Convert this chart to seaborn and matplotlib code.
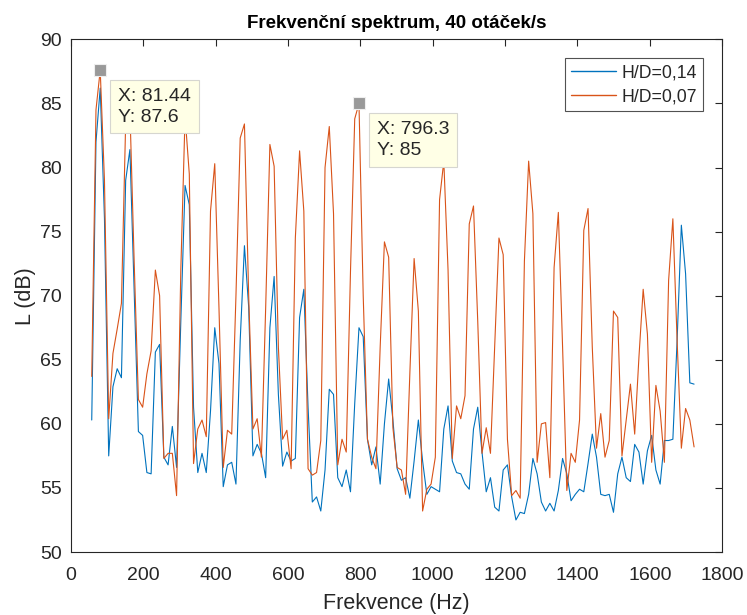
import numpy as np
import pandas as pd
import seaborn as sns
import matplotlib
matplotlib.use('Agg')
import matplotlib.pyplot as plt

# frequency bins (Hz): start, step, count
F0 = 58.0
DF = 11.719
N = 143

# sound level L (dB) for each bin
hd_014 = [60.3, 82, 86.2, 76, 57.5, 62.9, 64.3, 63.6, 79, 81.4,
          70.4, 59.4, 59.1, 56.2, 56.1, 65.6, 66.2, 57.4, 56.8, 59.8,
          56.6, 68, 78.6, 77.1, 61.3, 56.2, 57.7, 56.2, 61, 67.5,
          64.7, 55.1, 56.8, 57, 55.3, 66.5, 73.9, 69.1, 57.5, 58.4,
          57.7, 55.8, 67.5, 71.5, 62.3, 56.7, 57.8, 57.1, 57.3, 68.3,
          70.5, 61.3, 53.9, 54.3, 53.2, 56.4, 62.7, 62.3, 55.8, 55.1,
          56.4, 54.7, 61.6, 67.5, 66.8, 58.8, 56.8, 58.2, 55.3, 60,
          63.5, 60.3, 56.5, 55.6, 55.8, 54.2, 57.1, 60.3, 57.1, 54.5,
          55.1, 54.9, 54.7, 59.6, 61.4, 57.1, 56.2, 56.1, 55.3, 54.9,
          59.6, 61.3, 57.8, 54.7, 55.8, 53.5, 53.2, 56.4, 56.8, 54.3,
          52.5, 53.1, 53.0, 54.5, 57.3, 56.1, 53.9, 53.2, 53.8, 53.2,
          54.8, 57.3, 56.1, 54.0, 54.5, 54.9, 54.7, 56.9, 59.2, 57.4,
          54.5, 54.4, 54.5, 53.1, 56.1, 57.4, 55.8, 55.5, 58.4, 57.8,
          55.3, 57.9, 59.1, 56.4, 55.3, 58.7, 58.7, 58.8, 66.5, 75.5,
          71.7, 63.2, 63.1]

hd_007 = [63.7, 84.5, 87.6, 79, 60.4, 65.5, 67.4, 69.4, 83.5, 84.5,
          72.7, 61.9, 61.3, 63.9, 65.7, 72, 70, 57.3, 57.7, 57.7,
          54.4, 72, 84, 79.5, 56.9, 59.6, 60.3, 59, 76.6, 80.3,
          69, 56.6, 59.5, 59.2, 70, 82.3, 83.4, 70, 59.6, 60.4,
          57.4, 69, 81.8, 80.1, 66, 58.8, 59.5, 56.5, 74.5, 81.3,
          76.6, 56.5, 56, 56.2, 58.7, 80, 83.2, 76.4, 56.8, 58.8,
          57.8, 71.9, 83.8, 85, 70, 58.8, 57.4, 56.5, 66, 74.2,
          73, 59.7, 56.6, 56.4, 54.5, 64, 72.9, 68.8, 53.2, 54.9,
          55.3, 57.4, 77.5, 80.5, 72, 57.3, 61.4, 60.4, 62.2, 75.6,
          77, 68, 57.7, 59.7, 57.7, 66, 74.5, 73.2, 58.8, 54.4,
          54.8, 54.2, 72.7, 80.5, 76.4, 57, 60, 60.1, 55.8, 72.2,
          76.5, 66, 54.8, 57.7, 57, 60.3, 75.1, 76.8, 66, 58.1,
          60.8, 57.4, 58.7, 68.8, 68.3, 57.5, 60.3, 63.1, 59.2, 65.2,
          70.5, 67, 57, 63, 61, 57, 71.2, 76, 66.5, 58.1,
          61.2, 60.3, 58.2]

series_names = ['H/D=0,14', 'H/D=0,07']
tip_idx = [2, 63]  # data tips on the H/D=0,07 curve

freq = F0 + DF * np.arange(N)
freq[2] = 81.44
freq[63] = 796.3

df = pd.DataFrame({
    'f': np.concatenate([freq, freq]),
    'L': np.concatenate([hd_014, hd_007]),
    'serie': [series_names[0]] * N + [series_names[1]] * N,
})

sns.set_style('white')
plt.rcParams['font.family'] = ['Liberation Sans', 'DejaVu Sans']

fig = plt.figure(figsize=(7.47, 6.15), dpi=100)
ax = fig.add_axes([0.0947, 0.1024, 0.8722, 0.8336])

sns.lineplot(data=df, x='f', y='L', hue='serie', palette=['#0072BD', '#D95319'],
             linewidth=0.8, ax=ax, sort=False, estimator=None)

ax.set_xlim(0, 1800)
ax.set_ylim(50, 90)
ax.set_xticks(range(0, 1801, 200))
ax.set_yticks(range(50, 91, 5))
ax.tick_params(direction='in', length=5, width=0.8, labelsize=14, colors='#262626',
               top=True, right=True)
ax.tick_params(axis='x', pad=11)
ax.tick_params(axis='y', pad=6.5)
for s in ax.spines.values():
    s.set_color('#262626')
    s.set_linewidth(0.8)

ax.set_xlabel('Frekvence (Hz)', fontsize=15.5, color='#262626', labelpad=6)
ax.set_ylabel('L (dB)', fontsize=15.5, color='#262626', labelpad=3)
ax.set_title('Frekvenční spektrum, 40 otáček/s', fontsize=13.5, fontweight='bold',
             color='black', pad=8)

leg = ax.legend(loc='upper right', fontsize=12.7, frameon=True, fancybox=False,
                edgecolor='#262626', borderpad=0.35, handlelength=2.5,
                handletextpad=0.35, labelspacing=0.38,
                bbox_to_anchor=(1, 1), borderaxespad=1.07)
leg.get_frame().set_linewidth(0.8)
for h in leg.get_lines():
    h.set_linewidth(1.0)

for i in tip_idx:
    x, y = freq[i], hd_007[i]
    ax.plot([x], [y], marker='s', markersize=9, color='#999999', zorder=5,
            markeredgecolor='#eeeeee', markeredgewidth=0.8)
    ax.annotate(f'X: {x:g}\nY: {y:g}', xy=(x, y), xytext=(18, -17.5),
                textcoords='offset pixels', ha='left', va='top', fontsize=14,
                linespacing=1.3, zorder=6,
                bbox=dict(boxstyle='square,pad=0.4', fc='#FFFFE6', ec='#D6D6D0', lw=0.8))

fig.savefig('out.png', dpi=100)
